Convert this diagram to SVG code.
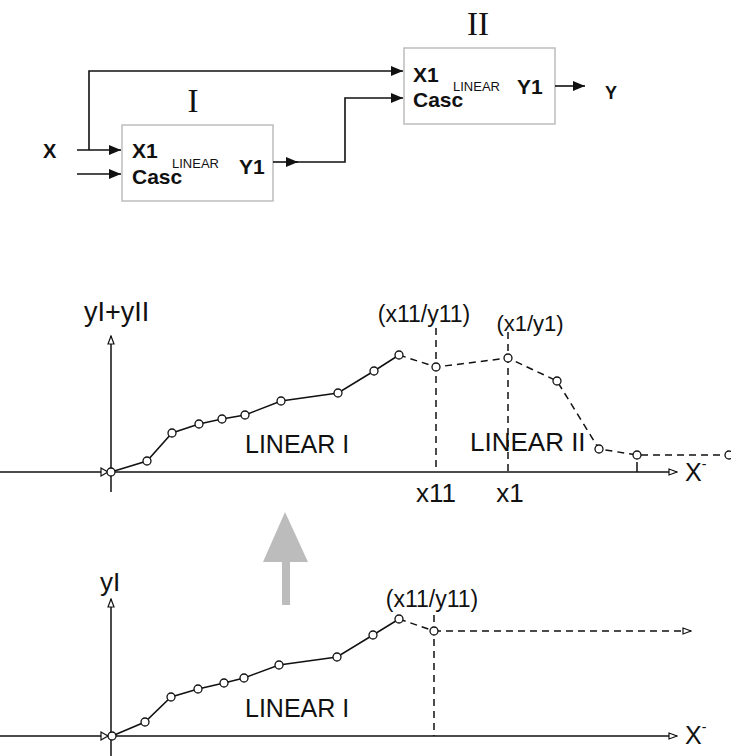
<svg xmlns="http://www.w3.org/2000/svg" width="731" height="756" viewBox="0 0 731 756">
<style>
.box{fill:#fff;stroke:#bdbdbd;stroke-width:1.5}
.con{fill:none;stroke:#111;stroke-width:1.6}
.b{font-family:"Liberation Sans",Arial,sans-serif;font-weight:bold;fill:#111}
.sm{font-family:"Liberation Sans",Arial,sans-serif;font-size:13px;fill:#111}
.rom{font-family:"Liberation Serif","Times New Roman",serif;font-size:33px;fill:#111}
.ax{fill:none;stroke:#111;stroke-width:1.5}
.cv{fill:none;stroke:#111;stroke-width:1.5}
.ds{fill:none;stroke:#111;stroke-width:1.5;stroke-dasharray:7 5}
.pt{fill:#fff;stroke:#111;stroke-width:1.3}
.lb{font-family:"Liberation Sans",Arial,sans-serif;fill:#111}
</style>
<defs>
<marker id="ah" markerWidth="12" markerHeight="10" refX="12" refY="5" orient="auto" markerUnits="userSpaceOnUse">
<path d="M0,0 L12,5 L0,10 Z" fill="#111"/>
</marker>
<marker id="oh" markerWidth="10" markerHeight="8" refX="9" refY="4" orient="auto" markerUnits="userSpaceOnUse">
<path d="M1,1 L9,4 L1,7 Z" fill="#fff" stroke="#111" stroke-width="1.2"/>
</marker>
</defs>
<rect width="731" height="756" fill="#fff"/>

<!-- block diagram -->
<g id="blockI">
<rect class="box" x="122" y="125" width="151" height="76"/>
<text class="rom" x="193" y="112" text-anchor="middle">I</text>
<text class="b" x="132" y="158" font-size="21">X1</text>
<text class="b" x="132" y="184" font-size="21">Casc</text>
<text class="sm" x="172" y="168">LINEAR</text>
<text class="b" x="239" y="174" font-size="21">Y1</text>
</g>
<g id="blockII">
<rect class="box" x="404" y="48" width="151" height="76"/>
<text class="rom" x="478" y="35" text-anchor="middle">II</text>
<text class="b" x="413" y="82" font-size="21">X1</text>
<text class="b" x="413" y="107" font-size="21">Casc</text>
<text class="sm" x="453" y="91">LINEAR</text>
<text class="b" x="517" y="94" font-size="21">Y1</text>
</g>
<g id="inX"><text class="b" x="43" y="158" font-size="20">X</text></g>
<g id="outY"><text class="b" x="605" y="99" font-size="18">Y</text></g>

<g id="connectors">
<path class="con" d="M77,150 L121,150" marker-end="url(#ah)"/>
<path class="con" d="M77,174 L121,174" marker-end="url(#ah)"/>
<path class="con" d="M89,150 L89,71 L403,71" marker-end="url(#ah)"/>
<path class="con" d="M273,162 L298,162" marker-end="url(#ah)"/>
<path class="con" d="M296,162 L345,162 L345,98 L403,98"  marker-end="url(#ah)"/>
<path class="con" d="M555,86 L585,86" marker-end="url(#ah)"/>
</g>

<!-- top chart -->
<g id="chart1">
<line class="ax" x1="111" y1="492" x2="111" y2="336" marker-end="url(#oh)"/>
<line class="ax" x1="0" y1="472" x2="677" y2="472" marker-end="url(#oh)"/>
<polygon points="101,468 101,476 108,472" fill="#fff" stroke="#111" stroke-width="1.2"/>
<line class="ds" x1="436" y1="328" x2="436" y2="472"/>
<line class="ds" x1="508" y1="332" x2="508" y2="472"/>
<line class="ax" x1="637" y1="462" x2="637" y2="472"/>
<polyline class="cv" points="111,472 147,461 172,433 199,424 222,419 245,415 281,401 338,393 374,371 399,355"/>
<polyline class="ds" points="399,355 436,367 508,358 557,381 599,449 637,455 729,455"/>
<g class="pt">
<circle cx="111" cy="472" r="4"/><circle cx="147" cy="461" r="4"/><circle cx="172" cy="433" r="4"/>
<circle cx="199" cy="424" r="4"/><circle cx="222" cy="419" r="4"/><circle cx="245" cy="415" r="4"/>
<circle cx="281" cy="401" r="4"/><circle cx="338" cy="393" r="4"/><circle cx="374" cy="371" r="4"/>
<circle cx="399" cy="355" r="4"/><circle cx="436" cy="367" r="4"/><circle cx="508" cy="358" r="4"/>
<circle cx="557" cy="381" r="4"/><circle cx="599" cy="449" r="4"/><circle cx="637" cy="455" r="4"/>
<circle cx="729" cy="455" r="4"/>
</g>
<text class="lb" x="84" y="321" font-size="27">yI+yII</text>
<text class="lb" x="424" y="322" font-size="23" text-anchor="middle">(x11/y11)</text>
<text class="lb" x="530" y="331" font-size="22" text-anchor="middle">(x1/y1)</text>
<text class="lb" x="245" y="453" font-size="25">LINEAR I</text>
<text class="lb" x="470" y="451" font-size="26">LINEAR II</text>
<text class="lb" x="436" y="502" font-size="26" text-anchor="middle">x11</text>
<text class="lb" x="510" y="502" font-size="26" text-anchor="middle">x1</text>
<text class="lb" x="685" y="481" font-size="25">X<tspan font-size="14" dy="-12">-</tspan></text>
</g>

<!-- gray arrow -->
<g id="bigArrow">
<rect x="282" y="560" width="8" height="45" fill="#bcbcbc"/>
<polygon points="285,512 263,562 308,562" fill="#bcbcbc"/>
</g>

<!-- bottom chart -->
<g id="chart2">
<line class="ax" x1="111" y1="756" x2="111" y2="599" marker-end="url(#oh)"/>
<line class="ax" x1="0" y1="736" x2="677" y2="736" marker-end="url(#oh)"/>
<polygon points="101,732 101,740 108,736" fill="#fff" stroke="#111" stroke-width="1.2"/>
<line class="ds" x1="434" y1="615" x2="434" y2="736"/>
<polyline class="cv" points="112,736 145,722 171,697 198,689 224,683 244,678 279,665 337,657 373,635 399,619"/>
<polyline class="ds" points="399,619 434,631"/>
<line class="ds" x1="434" y1="631" x2="691" y2="631" marker-end="url(#oh)"/>
<g class="pt">
<circle cx="112" cy="736" r="4"/><circle cx="145" cy="722" r="4"/><circle cx="171" cy="697" r="4"/>
<circle cx="198" cy="689" r="4"/><circle cx="224" cy="683" r="4"/><circle cx="244" cy="678" r="4"/>
<circle cx="279" cy="665" r="4"/><circle cx="337" cy="657" r="4"/><circle cx="373" cy="635" r="4"/>
<circle cx="399" cy="619" r="4"/><circle cx="434" cy="631" r="4"/>
</g>
<text class="lb" x="100" y="591" font-size="26">yI</text>
<text class="lb" x="432" y="607" font-size="23" text-anchor="middle">(x11/y11)</text>
<text class="lb" x="245" y="717" font-size="25">LINEAR I</text>
<text class="lb" x="685" y="744" font-size="25">X<tspan font-size="14" dy="-12">-</tspan></text>
</g>
</svg>
